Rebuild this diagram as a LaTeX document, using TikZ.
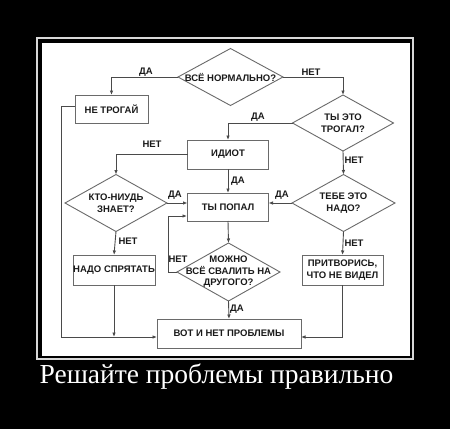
\documentclass[tikz,border=0pt]{standalone}
\usepackage{fontspec}
\setmainfont{Liberation Serif}
\newfontfamily\chartsans{Liberation Sans}
\usetikzlibrary{shapes.geometric,arrows.meta}
\definecolor{linegray}{HTML}{4A4A4A}
\definecolor{boxgray}{HTML}{6A6A6A}
\definecolor{txt}{HTML}{1A1A1A}
\definecolor{framegray}{HTML}{D8D8D8}
\tikzset{
  chartfont/.style={font=\chartsans\bfseries\fontsize{9.5}{11.5}\selectfont},
  box/.style={draw=boxgray, line width=0.9pt, fill=white, inner sep=0pt, outer sep=0pt,
    chartfont, text=txt, align=center},
  dia/.style={draw=boxgray, line width=0.9pt, fill=white, shape=diamond, inner sep=0pt, outer sep=0pt},
  lbl/.style={chartfont, text=txt, inner sep=0pt, align=center},
  conn/.style={draw=linegray, line width=0.9pt, -{Latex[length=4.5pt,width=3.6pt]}},
}
\begin{document}
\begin{tikzpicture}[x=1pt,y=-1pt]
\fill[black] (0,0) rectangle (450,429);
\useasboundingbox (0,0) rectangle (450,429);
\draw[framegray, line width=1.6pt] (37,38) rectangle (413,359);
\fill[white] (42,43) rectangle (410,356);

% boxes
\node[box, minimum width=73pt, minimum height=28pt] (b1) at (111.5,109) {НЕ ТРОГАЙ};
\node[box, minimum width=81pt, minimum height=29pt] (b2) at (228,154.5) {ИДИОТ};
\node[box, minimum width=81pt, minimum height=28pt] (b3) at (228,207) {ТЫ ПОПАЛ};
\node[box, minimum width=82pt, minimum height=30pt] (b4) at (114,270) {НАДО СПРЯТАТЬ};
\node[box, minimum width=81pt, minimum height=30pt] (b5) at (342.5,270) {ПРИТВОРИСЬ,\\ЧТО НЕ ВИДЕЛ};
\node[box, minimum width=144pt, minimum height=29pt] (b6) at (229,333.5) {ВОТ И НЕТ ПРОБЛЕМЫ};

% diamonds
\node[dia, minimum width=105pt, minimum height=57pt,
  label={[lbl]center:ВСЁ НОРМАЛЬНО?}] (d1) at (230.5,77) {};
\node[dia, minimum width=101pt, minimum height=56pt,
  label={[lbl]center:{ТЫ ЭТО\\ТРОГАЛ?}}] (d2) at (343,123) {};
\node[dia, minimum width=102pt, minimum height=57pt,
  label={[lbl]center:{КТО-НИУДЬ\\ЗНАЕТ?}}] (d3) at (116,203) {};
\node[dia, minimum width=103pt, minimum height=57pt,
  label={[lbl]center:{ТЕБЕ ЭТО\\НАДО?}}] (d4) at (343.5,203) {};
\node[dia, minimum width=103pt, minimum height=58pt,
  label={[lbl]center:{МОЖНО\\ВСЁ СВАЛИТЬ НА\\ДРУГОГО?}}] (d5) at (228.5,272) {};

% helper coordinates
\coordinate (lcorner) at (61,337);
\coordinate (loopx) at (168,272);
\coordinate (b3low) at (187,216);

% connectors
\draw[conn] (d1.west) -| (b1.north);
\draw[conn] (d1.east) -| (d2.north);
\draw[conn] (d2.west) -| (b2.north);
\draw[conn] (d2.south) -- (d4.north);
\draw[conn] (b2.west) -| (d3.north);
\draw[conn] (b2.south) -- (b3.north);
\draw[conn] (d3.east) -- (d3.east -| b3.west);
\draw[conn] (d4.west) -- (d4.west -| b3.east);
\draw[conn] (d3.south) -- (b4.north);
\draw[conn] (d4.south) -- (b5.north);
\draw[conn] (b3.south) -- (d5.north);
\draw[conn] (d5.west) -- (loopx) |- (b3low);
\draw[conn] (d5.south) -- (b6.north);
\draw[conn] ([yshift=3pt]b1.west) -| (lcorner) -- (lcorner -| b6.west);
\draw[conn] (b4.south) -- (b4.south |- lcorner);
\draw[conn] (b5.south) |- (lcorner -| b6.east);

% connector labels
\node[lbl] (l1) at (146,72) {ДА};
\node[lbl] (l2) at (311,72) {НЕТ};
\node[lbl] (l3) at (258,117) {ДА};
\node[lbl] (l4) at (152,144) {НЕТ};
\node[lbl] (l5) at (354,160) {НЕТ};
\node[lbl] (l6) at (238,181) {ДА};
\node[lbl] (l7) at (175,195) {ДА};
\node[lbl] (l8) at (282,195) {ДА};
\node[lbl] (l9) at (128,241) {НЕТ};
\node[lbl] (l10) at (354,243) {НЕТ};
\node[lbl] (l11) at (178,259) {НЕТ};
\node[lbl] (l12) at (237,309) {ДА};

% caption
\node[text=white, font=\fontsize{27.5}{31}\selectfont, inner sep=0pt, anchor=base] (cap) at (216.5,383) {Решайте проблемы правильно};
\end{tikzpicture}
\end{document}
